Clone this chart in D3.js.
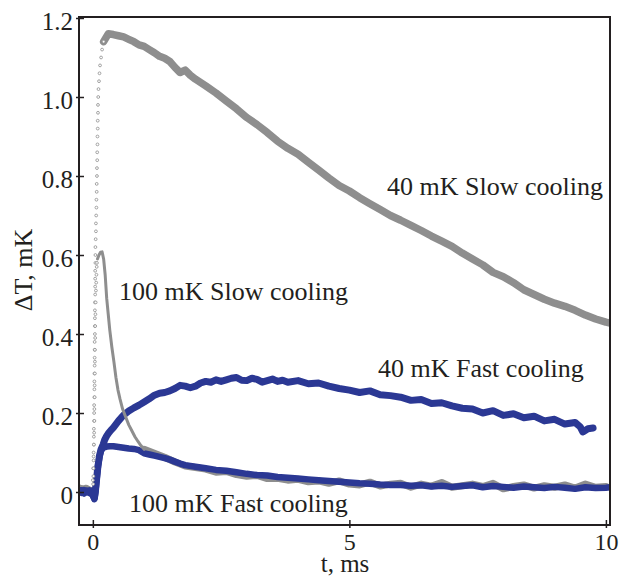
<!DOCTYPE html>
<html><head><meta charset="utf-8">
<script src="https://cdn.jsdelivr.net/npm/d3@7"></script>
<style>html,body{margin:0;padding:0;background:#fff;} svg{display:block;font-family:"Liberation Serif","Times New Roman",serif;}</style>
</head><body><svg id="chart" width="619" height="577"></svg>
<script>
// ---------------- data ----------------
const yTicks = [0, 0.2, 0.4, 0.6, 0.8, 1.0, 1.2];
const yTickLabels = ["0", "0.2", "0.4", "0.6", "0.8", "1.0", "1.2"];
const xTicks = [0, 5, 10];
const xTickLabels = ["0", "5", "10"];
const seriesNames = ["40 mK Slow cooling", "100 mK Slow cooling", "40 mK Fast cooling", "100 mK Fast cooling"];

// pre-trigger baseline of the slow-cooling (grey) records
const preGrayT = [-0.27, -0.2, -0.13, -0.06, 0.0];
const preGrayV = [0.012, 0.008, 0.011, 0.006, 0.005];

// 40 mK slow cooling: rising edge (sparse samples, drawn as circles)
const riseSlow40T = [0.005,0.01,0.01,0.015,0.015,0.02,0.02,0.02,0.025,0.025,0.025,0.03,0.03,0.03,0.03,0.035,0.035,0.035,0.035,0.04,0.04,0.04,0.04,0.04,0.045,0.045,0.045,0.045,0.05,0.05,0.05,0.055,0.06,0.06,0.065,0.07,0.07,0.075,0.075,0.08,0.08,0.085,0.085,0.09,0.09,0.095,0.095,0.10,0.10,0.105,0.11,0.12,0.13,0.14,0.16,0.18,0.21];
const riseSlow40V = [0.02,0.04,0.06,0.08,0.10,0.12,0.14,0.16,0.18,0.20,0.22,0.24,0.26,0.28,0.30,0.32,0.34,0.36,0.38,0.40,0.42,0.44,0.46,0.48,0.50,0.52,0.54,0.56,0.58,0.60,0.62,0.64,0.66,0.68,0.70,0.72,0.74,0.76,0.78,0.80,0.82,0.84,0.86,0.88,0.90,0.92,0.94,0.96,0.98,1.00,1.02,1.04,1.06,1.08,1.10,1.12,1.14];
// 40 mK slow cooling: decay
const slow40T = [0.21,0.3,0.4,0.5,0.6,0.7,0.8,0.9,1.0,1.1,1.2,1.3,1.4,1.5,1.6,1.7,1.8,1.9,2.0,2.2,2.4,2.6,2.8,3.0,3.2,3.4,3.6,3.8,4.0,4.2,4.4,4.6,4.8,5.0,5.2,5.4,5.6,5.8,6.0,6.2,6.4,6.6,6.8,7.0,7.2,7.4,7.6,7.8,8.0,8.2,8.4,8.6,8.8,9.0,9.2,9.4,9.6,9.8,10.0,10.08];
const slow40V = [1.14,1.16,1.158,1.155,1.152,1.146,1.14,1.132,1.128,1.12,1.112,1.103,1.098,1.09,1.075,1.062,1.068,1.055,1.045,
  1.028,1.01,0.99,0.97,0.948,0.93,0.91,0.888,0.87,0.855,
  0.835,0.815,0.795,0.776,0.762,0.745,0.73,0.715,0.70,0.688,
  0.675,0.662,0.648,0.635,0.622,0.605,0.59,0.575,0.556,0.545,
  0.53,0.512,0.5,0.488,0.478,0.47,0.46,0.448,0.438,0.43,0.428];

// 100 mK slow cooling: rising edge (circles)
const riseSlow100T = [0.0,0.01,0.015,0.02,0.025,0.03,0.03,0.035,0.035,0.04,0.04,0.04,0.045,0.045,0.05,0.055,0.06,0.065,0.07,0.075,0.08];
const riseSlow100V = [0.03,0.06,0.09,0.12,0.15,0.18,0.21,0.24,0.27,0.30,0.33,0.36,0.39,0.42,0.45,0.48,0.51,0.53,0.55,0.57,0.58];
// 100 mK slow cooling: peak, decay and tail
const slow100T = [0.09,0.12,0.15,0.18,0.21,0.24,0.27,0.30,0.33,0.37,0.41,0.45,0.49,0.53,0.58,0.64,0.70,0.76,0.82,0.88,0.94,1.0,
  1.2,1.4,1.6,1.8,2.0,2.2,2.4,2.6,2.8,3.0,3.2,3.4,3.6,3.8,4.0,4.2,4.4,4.6,4.8,5.0,5.2,5.4,5.6,5.8,6.0,6.2,6.4,6.6,6.8,7.0,7.2,7.4,7.6,7.8,8.0,8.2,8.4,8.6,8.8,9.0,9.2,9.4,9.6,9.8,10.0];
const slow100V = [0.59,0.60,0.607,0.608,0.59,0.55,0.49,0.45,0.41,0.367,0.33,0.29,0.258,0.235,0.21,0.19,0.17,0.155,0.14,0.128,0.117,0.108,
  0.098,0.088,0.076,0.066,0.062,
  0.058,0.05,0.052,0.044,0.04,
  0.042,0.034,0.035,0.03,0.032,
  0.026,0.028,0.022,0.028,0.02,
  0.018,0.025,0.015,0.02,0.022,
  0.012,0.02,0.015,0.024,0.012,
  0.016,0.02,0.014,0.022,0.008,
  0.014,0.018,0.01,0.016,0.012,
  0.018,0.01,0.02,0.012,0.014];

// 40 mK fast cooling
const fast40T = [-0.27,-0.22,-0.17,-0.12,-0.07,-0.03,0.0,0.03,0.05,0.08,0.10,0.13,0.16,0.20,0.23,0.27,0.3,0.35,0.4,
  0.5,0.6,0.7,0.8,0.9,1.0,1.1,1.2,1.3,1.4,1.5,1.6,1.7,1.8,1.9,2.0,2.1,2.2,2.3,2.4,2.5,2.6,2.7,2.8,2.9,3.0,3.1,3.2,3.3,3.4,3.5,3.6,3.7,3.8,
  4.0,4.2,4.4,4.6,4.8,5.0,5.2,5.4,5.6,5.8,6.0,6.2,6.4,6.6,6.8,7.0,7.2,7.4,7.6,7.8,8.0,8.2,8.4,8.6,8.8,9.0,9.2,9.4,
  9.5,9.55,9.65,9.75];
const fast40V = [0.002,0.004,-0.003,0.003,-0.002,0.002,-0.008,-0.016,0.002,0.042,0.066,0.092,0.108,0.12,
  0.132,0.142,0.148,0.156,0.163,
  0.18,0.195,0.205,0.213,0.22,0.228,0.236,0.245,0.25,0.252,
  0.256,0.262,0.27,0.268,0.264,0.268,0.276,0.28,0.278,0.284,
  0.28,0.284,0.288,0.29,0.283,0.282,0.288,0.285,0.278,0.282,
  0.286,0.28,0.283,0.278,
  0.282,0.274,0.276,0.268,0.262,0.258,0.252,0.256,0.246,0.244,
  0.24,0.232,0.234,0.224,0.226,0.218,0.212,0.21,0.2,0.206,
  0.194,0.198,0.188,0.192,0.18,0.184,0.172,0.176,
  0.165,0.152,0.16,0.162];

// 100 mK fast cooling
const fast100T = [-0.27,-0.22,-0.17,-0.12,-0.07,-0.03,0.0,0.03,0.05,0.08,0.10,0.13,0.16,0.20,0.27,0.33,0.4,
  0.5,0.6,0.7,0.8,0.9,1.0,1.1,1.2,1.3,1.4,1.5,1.6,1.7,1.8,
  2.0,2.2,2.4,2.6,2.8,3.0,3.2,3.4,3.6,3.8,4.0,4.2,4.4,4.6,4.8,5.0,5.2,5.4,5.6,5.8,6.0,6.2,6.4,6.6,6.8,7.0,7.2,7.4,7.6,7.8,8.0,8.2,8.4,8.6,8.8,9.0,9.2,9.4,9.6,9.8,10.0,10.08];
const fast100V = [0.004,-0.002,0.005,0.0,0.004,-0.004,-0.006,-0.018,0.0,0.04,0.065,0.09,0.105,0.112,
  0.115,0.116,0.116,
  0.114,0.112,0.11,0.109,0.106,0.098,0.095,0.092,0.089,0.086,0.082,0.077,0.072,0.068,
  0.064,0.06,0.056,0.054,0.05,
  0.046,0.043,0.042,0.038,0.036,
  0.034,0.032,0.03,0.028,0.026,
  0.024,0.022,0.021,0.019,0.018,
  0.018,0.016,0.017,0.014,0.016,
  0.013,0.015,0.017,0.012,0.015,
  0.013,0.011,0.014,0.012,0.01,
  0.013,0.011,0.008,0.012,0.01,
  0.011,0.012];

// ---------------- drawing ----------------
const GRAY = "#8e8e8e", BLUE = "#2b3894", INK = "#231f20";
const FONT = "'Liberation Serif', 'Times New Roman', serif";
const svg = d3.select("#chart");
const L = 79, R = 610, T = 17, B = 525;
const x = d3.scaleLinear().domain([-0.27, 10.08]).range([L, R]);
const y = d3.scaleLinear().domain([-0.0835, 1.2025]).range([B, T]);

svg.append("defs").append("clipPath").attr("id", "clip")
  .append("rect").attr("x", L).attr("y", T).attr("width", R - L).attr("height", B - T);

const plot = svg.append("g").attr("clip-path", "url(#clip)");
const line = d3.line().x(d => x(d[0])).y(d => y(d[1])).curve(d3.curveLinear);
const zip = (a, b) => a.map((t, i) => [t, b[i]]);

function path(data, color, width) {
  plot.append("path").datum(data).attr("d", line)
    .attr("fill", "none").attr("stroke", color).attr("stroke-width", width)
    .attr("stroke-linejoin", "round").attr("stroke-linecap", "round");
}

const slow100 = zip(slow100T, slow100V);
// grey baselines and tails (under the blue)
path(zip(preGrayT, preGrayV), GRAY, 6);
path(slow100.filter(d => d[0] >= 0.98), GRAY, 7);
path(zip(slow40T, slow40V), GRAY, 7.5);
// blue fast-cooling records
path(zip(fast40T, fast40V), BLUE, 7);
path(zip(fast100T, fast100V), BLUE, 6.5);
// thin grey decay of 100 mK slow cooling
path(slow100.filter(d => d[0] <= 1.0), GRAY, 3);

// circles on the rising edges
const circ = zip(riseSlow40T, riseSlow40V).concat(zip(riseSlow100T, riseSlow100V));
plot.selectAll("circle.rise").data(circ).join("circle").attr("class", "rise")
  .attr("cx", d => x(d[0])).attr("cy", d => y(d[1])).attr("r", 1.4)
  .attr("fill", "#fff").attr("stroke", GRAY).attr("stroke-width", 0.8);

// frame
svg.append("rect").attr("x", L).attr("y", T).attr("width", R - L).attr("height", B - T)
  .attr("fill", "none").attr("stroke", INK).attr("stroke-width", 2);

// y axis (ticks crossing the frame)
const yAx = svg.append("g").attr("transform", `translate(${L},0)`)
  .call(d3.axisLeft(y).tickValues(yTicks).tickSize(3).tickPadding(3)
    .tickFormat((d, i) => yTickLabels[i]));
yAx.attr("font-family", null);
yAx.select(".domain").remove();
yAx.selectAll("line").attr("x2", 5).attr("x1", -3).attr("stroke", INK).attr("stroke-width", 1.5);
yAx.selectAll("text").attr("font-size", 25).attr("fill", INK).attr("dy", "0.46em")
  .style("font-family", FONT);

const xAx = svg.append("g").attr("transform", `translate(0,${B})`)
  .call(d3.axisBottom(x).tickValues(xTicks).tickSize(3).tickFormat((d, i) => xTickLabels[i]));
xAx.attr("font-family", null);
xAx.select(".domain").remove();
xAx.selectAll("line").attr("y1", -5).attr("y2", 3).attr("stroke", INK).attr("stroke-width", 1.5);
xAx.selectAll("text").attr("font-size", 24).attr("fill", INK).attr("y", 25).attr("dy", 0)
  .style("font-family", FONT);

// axis titles
svg.append("text").attr("x", 345).attr("y", 572).attr("text-anchor", "middle")
  .attr("font-size", 25).attr("fill", INK).text("t, ms");
svg.append("text").attr("transform", "translate(32,270) rotate(-90)").attr("text-anchor", "middle")
  .attr("font-size", 26).attr("fill", INK).text("ΔT, mK");

// series annotations
const ann = [[seriesNames[0], 387, 195], [seriesNames[1], 119, 300], [seriesNames[2], 378, 377], [seriesNames[3], 129, 512]];
svg.selectAll("text.ann").data(ann).join("text").attr("class", "ann")
  .attr("x", d => d[1]).attr("y", d => d[2]).attr("font-size", 26).attr("fill", INK).text(d => d[0]);
</script></body></html>
